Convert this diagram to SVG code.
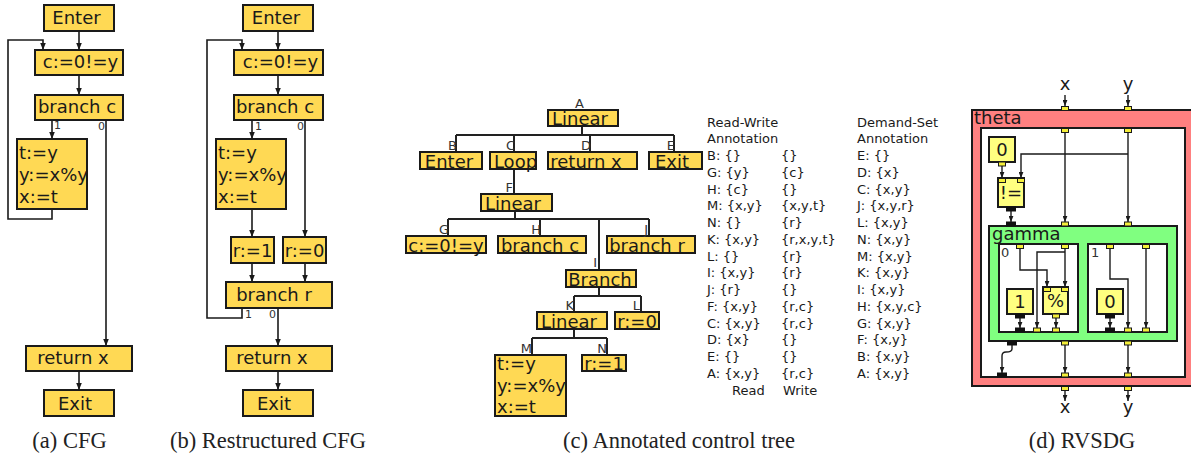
<svg xmlns="http://www.w3.org/2000/svg" width="1191" height="457" viewBox="0 0 1191 457">
<style>
.bx{fill:#ffd954;stroke:#1a1a1a;stroke-width:2}
.t{font-family:"DejaVu Sans",sans-serif;font-size:18px;fill:#1a1a1a}
.tm{font-family:"DejaVu Sans",sans-serif;font-size:18px;fill:#1a1a1a;text-anchor:middle}
.lb{font-family:"DejaVu Sans",sans-serif;font-size:11px;fill:#333}
.tl{font-family:"DejaVu Sans",sans-serif;font-size:13px;fill:#333;text-anchor:end}
.an{font-family:"DejaVu Sans",sans-serif;font-size:13px;fill:#1a1a1a}
.cap{font-family:"Liberation Serif",serif;font-size:22.5px;fill:#222;text-anchor:middle}
.e{fill:none;stroke:#1a1a1a;stroke-width:1.6}
.ea{fill:none;stroke:#1a1a1a;stroke-width:1.6;marker-end:url(#ah)}
.te{fill:none;stroke:#222;stroke-width:2}
.rn{fill:#ffff80;stroke:#1a1a1a;stroke-width:2}
.re{fill:none;stroke:#1a1a1a;stroke-width:1.4}
.ra{fill:none;stroke:#1a1a1a;stroke-width:1.4;marker-end:url(#ah2)}
.p{fill:#f5ef3a;stroke:#1a1a1a;stroke-width:1}
.pb{fill:#111;stroke:#111;stroke-width:1}
</style>
<defs>
<marker id="ah" viewBox="0 0 10 8" refX="10" refY="4" markerWidth="7" markerHeight="5.6" orient="auto" markerUnits="userSpaceOnUse"><path d="M0,0 L10,4 L0,8 z" fill="#1a1a1a"/></marker>
<marker id="ah2" viewBox="0 0 10 8" refX="10" refY="4" markerWidth="6" markerHeight="5" orient="auto" markerUnits="userSpaceOnUse"><path d="M0,0 L10,4 L0,8 z" fill="#1a1a1a"/></marker>
</defs>

<!-- (a) CFG -->
<g id="a-connectors">
<path class="ea" d="M79,31 V50"/>
<path class="ea" d="M79,75 V95"/>
<path class="ea" d="M52,120 V139"/>
<path class="ea" d="M106,120 V346"/>
<path class="ea" d="M52,209 V219 H8 V40 H43 V50"/>
<path class="ea" d="M79,371 V390"/>
<text class="lb" x="54" y="129">1</text>
<text class="lb" x="98" y="130">0</text>
</g>
<g id="a-enter"><rect class="bx" x="44" y="5" width="70" height="26"/><text class="tm" x="76.5" y="23.5">Enter</text></g>
<g id="a-cond"><rect class="bx" x="35" y="50" width="88" height="25"/><text class="tm" x="80.5" y="68">c:=0!=y</text></g>
<g id="a-branch"><rect class="bx" x="35" y="95" width="88" height="25"/><text class="tm" x="77" y="113">branch c</text></g>
<g id="a-body"><rect class="bx" x="17" y="139" width="70" height="70"/><text class="t" x="19" y="159">t:=y</text><text class="t" x="19" y="181">y:=x%y</text><text class="t" x="19" y="203">x:=t</text></g>
<g id="a-return"><rect class="bx" x="26" y="346" width="106" height="25"/><text class="tm" x="73" y="364">return x</text></g>
<g id="a-exit"><rect class="bx" x="44" y="390" width="70" height="26"/><text class="tm" x="75" y="409.5">Exit</text></g>
<text class="cap" x="69.5" y="448">(a) CFG</text>

<!-- (b) Restructured CFG -->
<g id="b-connectors">
<path class="ea" d="M278,31 V50"/>
<path class="ea" d="M278,75 V95"/>
<path class="ea" d="M252,120 V139"/>
<path class="ea" d="M305,120 V237"/>
<path class="ea" d="M252,209 V237"/>
<path class="ea" d="M252,263 V282"/>
<path class="ea" d="M305,263 V282"/>
<path class="ea" d="M278,308 V346"/>
<path class="ea" d="M242,308 V318 H207 V40 H242 V50"/>
<path class="ea" d="M278,371 V390"/>
<text class="lb" x="255" y="130">1</text>
<text class="lb" x="297" y="130">0</text>
<text class="lb" x="245" y="318">1</text>
<text class="lb" x="269" y="318">0</text>
</g>
<g id="b-enter"><rect class="bx" x="243" y="5" width="70" height="26"/><text class="tm" x="276" y="23.5">Enter</text></g>
<g id="b-cond"><rect class="bx" x="234" y="50" width="89" height="25"/><text class="tm" x="280.5" y="68">c:=0!=y</text></g>
<g id="b-branchc"><rect class="bx" x="234" y="95" width="89" height="25"/><text class="tm" x="275" y="113">branch c</text></g>
<g id="b-body"><rect class="bx" x="216" y="139" width="70" height="70"/><text class="t" x="218" y="159">t:=y</text><text class="t" x="218" y="181">y:=x%y</text><text class="t" x="218" y="203">x:=t</text></g>
<g id="b-r1"><rect class="bx" x="231" y="237" width="43" height="26"/><text class="tm" x="252.5" y="256.5">r:=1</text></g>
<g id="b-r0"><rect class="bx" x="283" y="237" width="43" height="26"/><text class="tm" x="304.5" y="256.5">r:=0</text></g>
<g id="b-branchr"><rect class="bx" x="226" y="282" width="106" height="26"/><text class="tm" x="274" y="301">branch r</text></g>
<g id="b-return"><rect class="bx" x="226" y="346" width="106" height="25"/><text class="tm" x="272" y="364">return x</text></g>
<g id="b-exit"><rect class="bx" x="243" y="390" width="70" height="26"/><text class="tm" x="274" y="409.5">Exit</text></g>
<text class="cap" x="268" y="448">(b) Restructured CFG</text>

<!-- (c) Annotated control tree -->
<g id="c-connectors">
<path class="te" d="M582,126 V135 M456,135 H674 M456,135 V152 M514,135 V152 M590,135 V152 M674,135 V152"/>
<path class="te" d="M514,169 V194"/>
<path class="te" d="M515,211 V219 M448,219 H649 M448,219 V236 M540,219 V236 M649,219 V236 M599,219 V270"/>
<path class="te" d="M599,287 V296 M574,296 H641 M574,296 V312 M641,296 V312"/>
<path class="te" d="M574,329 V338 M532,338 H607 M532,338 V355 M607,338 V355"/>
</g>
<g id="c-A"><rect class="bx" x="548" y="110" width="70" height="16"/><text class="tl" x="584" y="108">A</text><text class="tm" x="580" y="125">Linear</text></g>
<g id="c-B"><rect class="bx" x="420" y="152" width="62" height="17"/><text class="tl" x="457" y="150">B</text><text class="tm" x="449" y="167.5">Enter</text></g>
<g id="c-C"><rect class="bx" x="490" y="152" width="46" height="17"/><text class="tl" x="515" y="150">C</text><text class="tm" x="515.5" y="167.5">Loop</text></g>
<g id="c-D"><rect class="bx" x="548" y="152" width="89" height="17"/><text class="tl" x="591" y="150">D</text><text class="tm" x="586" y="167.5">return x</text></g>
<g id="c-E"><rect class="bx" x="649" y="152" width="53" height="17"/><text class="tl" x="675" y="150">E</text><text class="tm" x="672" y="167.5">Exit</text></g>
<g id="c-F"><rect class="bx" x="481" y="194" width="71" height="17"/><text class="tl" x="513" y="192">F</text><text class="tm" x="513" y="209.5">Linear</text></g>
<g id="c-G"><rect class="bx" x="406" y="236" width="80" height="17"/><text class="tl" x="449" y="234">G</text><text class="tm" x="446" y="251.5">c:=0!=y</text></g>
<g id="c-H"><rect class="bx" x="498" y="236" width="88" height="17"/><text class="tl" x="541" y="234">H</text><text class="tm" x="540" y="251.5">branch c</text></g>
<g id="c-J"><rect class="bx" x="607" y="236" width="88" height="17"/><text class="tl" x="648" y="234">J</text><text class="tm" x="647" y="251.5">branch r</text></g>
<g id="c-I"><rect class="bx" x="566" y="270" width="70" height="17"/><text class="tl" x="597" y="267">I</text><text class="tm" x="600" y="285.5">Branch</text></g>
<g id="c-K"><rect class="bx" x="537" y="312" width="70" height="17"/><text class="tl" x="574" y="310">K</text><text class="tm" x="569" y="327.5">Linear</text></g>
<g id="c-L"><rect class="bx" x="615" y="312" width="44" height="17"/><text class="tl" x="640" y="310">L</text><text class="tm" x="637" y="327.5">r:=0</text></g>
<g id="c-M"><rect class="bx" x="495" y="355" width="71" height="61"/><text class="tl" x="532" y="353">M</text><text class="t" x="497" y="370">t:=y</text><text class="t" x="497" y="392">y:=x%y</text><text class="t" x="497" y="413">x:=t</text></g>
<g id="c-N"><rect class="bx" x="582" y="355" width="44" height="16"/><text class="tl" x="607" y="353">N</text><text class="tm" x="604" y="370">r:=1</text></g>

<g id="c-readwrite">
<text class="an" x="707" y="126.5">Read-Write</text>
<text class="an" x="707" y="143.25">Annotation</text>
<text class="an" x="707" y="160">B: {}</text><text class="an" x="781" y="160">{}</text>
<text class="an" x="707" y="176.75">G: {y}</text><text class="an" x="781" y="176.75">{c}</text>
<text class="an" x="707" y="193.5">H: {c}</text><text class="an" x="781" y="193.5">{}</text>
<text class="an" x="707" y="210.25">M: {x,y}</text><text class="an" x="781" y="210.25">{x,y,t}</text>
<text class="an" x="707" y="227">N: {}</text><text class="an" x="781" y="227">{r}</text>
<text class="an" x="707" y="243.75">K: {x,y}</text><text class="an" x="781" y="243.75">{r,x,y,t}</text>
<text class="an" x="707" y="260.5">L: {}</text><text class="an" x="781" y="260.5">{r}</text>
<text class="an" x="707" y="277.25">I: {x,y}</text><text class="an" x="781" y="277.25">{r}</text>
<text class="an" x="707" y="294">J: {r}</text><text class="an" x="781" y="294">{}</text>
<text class="an" x="707" y="310.75">F: {x,y}</text><text class="an" x="781" y="310.75">{r,c}</text>
<text class="an" x="707" y="327.5">C: {x,y}</text><text class="an" x="781" y="327.5">{r,c}</text>
<text class="an" x="707" y="344.25">D: {x}</text><text class="an" x="781" y="344.25">{}</text>
<text class="an" x="707" y="361">E: {}</text><text class="an" x="781" y="361">{}</text>
<text class="an" x="707" y="377.75">A: {x,y}</text><text class="an" x="781" y="377.75">{r,c}</text>
<text class="an" x="732" y="394.5">Read</text><text class="an" x="783" y="394.5">Write</text>
</g>
<g id="c-demand">
<text class="an" x="857" y="126.5">Demand-Set</text>
<text class="an" x="857" y="143.25">Annotation</text>
<text class="an" x="857" y="160">E: {}</text>
<text class="an" x="857" y="176.75">D: {x}</text>
<text class="an" x="857" y="193.5">C: {x,y}</text>
<text class="an" x="857" y="210.25">J: {x,y,r}</text>
<text class="an" x="857" y="227">L: {x,y}</text>
<text class="an" x="857" y="243.75">N: {x,y}</text>
<text class="an" x="857" y="260.5">M: {x,y}</text>
<text class="an" x="857" y="277.25">K: {x,y}</text>
<text class="an" x="857" y="294">I: {x,y}</text>
<text class="an" x="857" y="310.75">H: {x,y,c}</text>
<text class="an" x="857" y="327.5">G: {x,y}</text>
<text class="an" x="857" y="344.25">F: {x,y}</text>
<text class="an" x="857" y="361">B: {x,y}</text>
<text class="an" x="857" y="377.75">A: {x,y}</text>
</g>
<text class="cap" x="679" y="448">(c) Annotated control tree</text>

<!-- (d) RVSDG -->
<g id="d-theta">
<rect x="972" y="110" width="226" height="276" fill="#ff8080" stroke="#1a1a1a" stroke-width="2"/>
<text class="t" x="974" y="124">theta</text>
<rect x="981" y="128" width="204" height="249" fill="#fff" stroke="#1a1a1a" stroke-width="2"/>
</g>
<g id="d-gamma">
<rect x="989" y="226" width="188" height="115" fill="#80ff80" stroke="#1a1a1a" stroke-width="2"/>
<text class="t" x="992" y="240">gamma</text>
<rect x="999" y="244" width="79" height="88" fill="#fff" stroke="#1a1a1a" stroke-width="2"/>
<text class="lb" x="1001" y="257" style="font-size:13px">0</text>
<rect x="1088" y="244" width="79" height="88" fill="#fff" stroke="#1a1a1a" stroke-width="2"/>
<text class="lb" x="1091" y="257" style="font-size:13px">1</text>
</g>
<g id="d-connectors">
<path class="ra" d="M1065,95 V106"/>
<path class="ra" d="M1128,95 V106"/>
<path class="ra" d="M1065,132 V222"/>
<path class="ra" d="M1128,132 V222"/>
<path class="ra" d="M1128,154 H1021 V178"/>
<path class="ra" d="M1002,166 V178"/>
<path class="ra" d="M1011,211 V222"/>
<path class="ra" d="M1020,248 V270 H1047 V287"/>
<path class="ra" d="M1065,248 V287"/>
<path class="ra" d="M1065,252 H1037 V328"/>
<path class="ra" d="M1056,318 V328"/>
<path class="ra" d="M1020,318 V328"/>
<path class="ra" d="M1110,248 V279 H1128 V328"/>
<path class="ra" d="M1146,248 V328"/>
<path class="ra" d="M1110,318 V328"/>
<path class="ra" d="M1012,345 V349 Q1012,352 1006,352 Q1002,352 1002,356 V373"/>
<path class="ra" d="M1065,345 V373"/>
<path class="ra" d="M1128,345 V373"/>
<path class="ra" d="M1065,390 V401"/>
<path class="ra" d="M1128,390 V401"/>
</g>
<g id="d-ports">
<rect class="p" x="1061.5" y="106.5" width="7" height="4"/>
<rect class="p" x="1124.5" y="106.5" width="7" height="4"/>
<rect class="p" x="1061.5" y="128.5" width="7" height="4"/>
<rect class="p" x="1124.5" y="128.5" width="7" height="4"/>
<rect class="p" x="1061.5" y="222" width="7" height="4"/>
<rect class="p" x="1124.5" y="222" width="7" height="4"/>
<rect class="pb" x="1006.5" y="222" width="9" height="4"/>
<rect class="p" x="1016.5" y="244.5" width="7" height="4"/>
<rect class="p" x="1061.5" y="244.5" width="7" height="4"/>
<rect class="p" x="1106.5" y="244.5" width="7" height="4"/>
<rect class="p" x="1142.5" y="244.5" width="7" height="4"/>
<rect class="pb" x="1015.5" y="328" width="9" height="4"/>
<rect class="p" x="1033.5" y="328" width="7" height="4"/>
<rect class="p" x="1052.5" y="328" width="7" height="4"/>
<rect class="pb" x="1105.5" y="328" width="9" height="4"/>
<rect class="p" x="1124.5" y="328" width="7" height="4"/>
<rect class="p" x="1142.5" y="328" width="7" height="4"/>
<rect class="pb" x="1007.5" y="341" width="9" height="4"/>
<rect class="p" x="1061.5" y="341" width="7" height="4"/>
<rect class="p" x="1124.5" y="341" width="7" height="4"/>
<rect class="pb" x="997.5" y="373" width="9" height="4"/>
<rect class="p" x="1061.5" y="373" width="7" height="4"/>
<rect class="p" x="1124.5" y="373" width="7" height="4"/>
<rect class="p" x="1061.5" y="386.5" width="7" height="4"/>
<rect class="p" x="1124.5" y="386.5" width="7" height="4"/>
</g>
<g id="d-const0"><rect class="rn" x="989" y="137" width="26" height="25"/><text class="tm" x="1002" y="156">0</text><rect class="p" x="998.5" y="162" width="7" height="4"/></g>
<g id="d-neq"><rect class="rn" x="998" y="178" width="26" height="29"/><text class="tm" x="1011" y="199">!=</text><rect class="p" x="998.5" y="178.5" width="7" height="4"/><rect class="p" x="1017.5" y="178.5" width="7" height="4"/><rect class="pb" x="1006.5" y="207" width="9" height="4"/></g>
<g id="d-const1"><rect class="rn" x="1007" y="289" width="26" height="25"/><text class="tm" x="1020" y="308">1</text><rect class="pb" x="1015.5" y="314" width="9" height="4"/></g>
<g id="d-mod"><rect class="rn" x="1043" y="287" width="25" height="27"/><text class="tm" x="1055.5" y="307">%</text><rect class="p" x="1043.5" y="287.5" width="7" height="4"/><rect class="p" x="1061.5" y="287.5" width="7" height="4"/><rect class="p" x="1052.5" y="314" width="7" height="4"/></g>
<g id="d-const0b"><rect class="rn" x="1097" y="289" width="26" height="25"/><text class="tm" x="1110" y="308">0</text><rect class="pb" x="1105.5" y="314" width="9" height="4"/></g>
<text class="tm" x="1065" y="90">x</text>
<text class="tm" x="1128" y="90">y</text>
<text class="tm" x="1065" y="413">x</text>
<text class="tm" x="1128" y="413">y</text>
<text class="cap" x="1082" y="448">(d) RVSDG</text>
</svg>
